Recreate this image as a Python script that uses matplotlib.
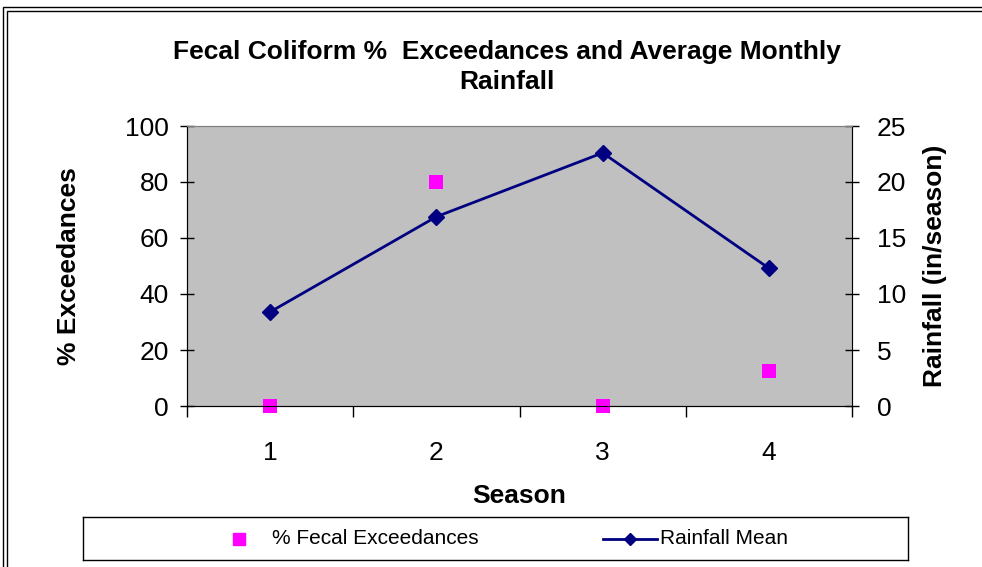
import matplotlib
matplotlib.use("Agg")
import matplotlib.pyplot as plt
from matplotlib.lines import Line2D
from matplotlib.patches import Rectangle

plt.rcParams["font.family"] = ["Liberation Sans", "DejaVu Sans"]

seasons = [1, 2, 3, 4]
seasonLabels = ["1", "2", "3", "4"]
fecalExceedances = [0, 80, 0, 12.5]
rainfallMean = [8.4, 16.9, 22.6, 12.3]

figure = plt.figure(figsize=(9.82, 5.67), dpi=100)
W, H = 982, 567

# outer chart border (double line on left/top)
figure.patches.append(Rectangle((3 / W, -0.1), 1.2, (560 / H) + 0.1, transform=figure.transFigure,
                                fill=False, edgecolor="black", linewidth=1.0))
figure.patches.append(Rectangle((7 / W, -0.1), 1.2, (556 / H) + 0.1, transform=figure.transFigure,
                                fill=False, edgecolor="black", linewidth=1.0))

ax = figure.add_axes([187 / W, 1 - 406 / H, (852 - 187) / W, (406 - 126) / H])
ax.set_facecolor("#c0c0c0")
for side in ["top", "right", "left", "bottom"]:
    ax.spines[side].set_color("#808080")
ax.spines["left"].set_color("black")
ax.spines["bottom"].set_color("black")

ax.scatter(seasons, fecalExceedances, marker="s", s=110, color="#ff00ff", zorder=3, clip_on=False,
           linewidths=0)
ax.set_xlim(0.5, 4.5)
ax.set_ylim(0, 100)
ax.set_yticks([0, 20, 40, 60, 80, 100])
ax.set_xticks([0.5, 1.5, 2.5, 3.5, 4.5])
ax.set_xticklabels([])
ax.set_xticks(seasons, minor=True)
ax.set_xticklabels(seasonLabels, minor=True, fontsize=19)
ax.tick_params(axis="x", which="major", direction="out", length=8, width=1)
ax.tick_params(axis="x", which="minor", length=0, pad=25)
ax.tick_params(axis="y", direction="inout", length=10, width=1, labelsize=19, pad=8)
ax.set_ylabel("% Exceedances", fontsize=19, fontweight="bold", labelpad=32)
ax.set_xlabel("Season", fontsize=19, fontweight="bold", labelpad=14)

ax2 = ax.twinx()
ax2.plot(seasons, rainfallMean, color="#000080", linewidth=2, marker="D", markersize=8, zorder=4)
ax2.set_ylim(0, 25)
ax2.set_yticks([0, 5, 10, 15, 20, 25])
ax2.tick_params(axis="y", direction="inout", length=10, width=1, labelsize=19, pad=13)
ax2.spines["right"].set_color("black")
ax2.spines["top"].set_color("#808080")
ax2.set_ylabel("Rainfall (in/season)", fontsize=19, fontweight="bold", labelpad=12)

figure.text(507 / W, 1 - 67 / H, "Fecal Coliform %  Exceedances and Average Monthly\nRainfall",
            ha="center", va="center", fontsize=19, fontweight="bold", linespacing=1.3)

# legend box
legendAx = figure.add_axes([83 / W, 1 - 560 / H, (908 - 83) / W, (560 - 517) / H])
legendAx.set_xlim(83, 908)
legendAx.set_ylim(560, 517)
legendAx.set_xticks([])
legendAx.set_yticks([])
for side in legendAx.spines.values():
    side.set_color("black")
    side.set_linewidth(1)
legendAx.add_line(Line2D([239], [539], marker="s", markersize=9, color="#ff00ff", linestyle="none"))
legendAx.text(272, 539, "% Fecal Exceedances", va="center", ha="left", fontsize=15)
legendAx.add_line(Line2D([603, 657], [539, 539], color="#000080", linewidth=2))
legendAx.add_line(Line2D([630], [539], color="#000080", marker="D", markersize=6, linestyle="none"))
legendAx.text(660, 539, "Rainfall Mean", va="center", ha="left", fontsize=15)

plt.savefig("out.png", dpi=100)
